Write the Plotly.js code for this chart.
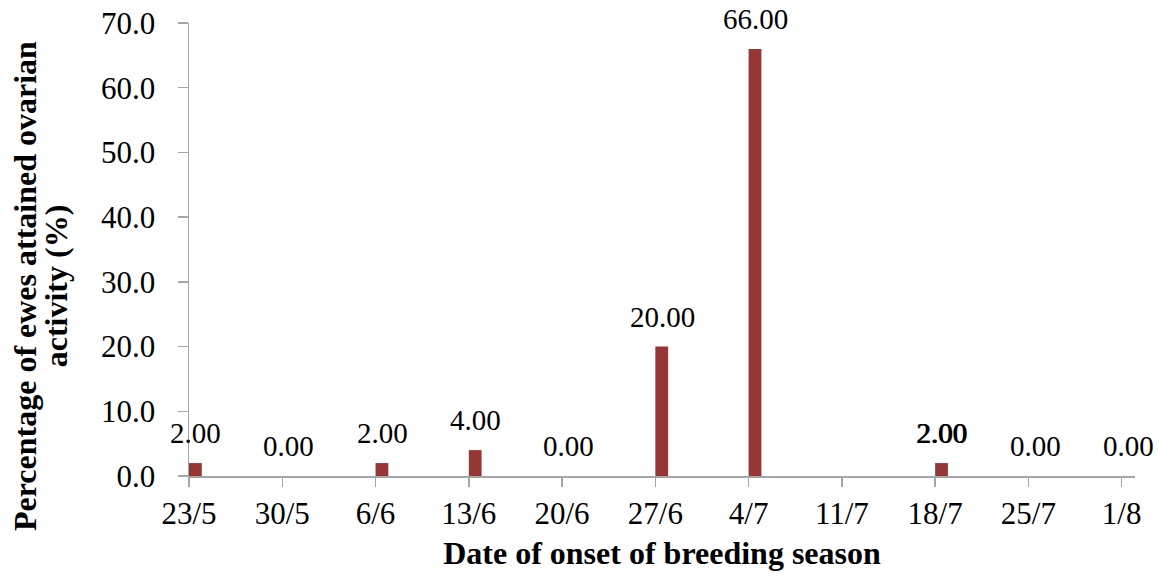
<!DOCTYPE html>
<html>
<head>
<meta charset="utf-8">
<script src="https://cdn.plot.ly/plotly-3.0.1.min.js"></script>
<style>html,body{margin:0;padding:0;background:#fff;}#chart{width:1159px;height:577px;}</style>
</head>
<body>
<div id="chart"></div>
<script>
// Data
const dates = ['2013-05-23','2013-05-30','2013-06-06','2013-06-13','2013-06-20','2013-06-27','2013-07-04','2013-07-11','2013-07-18','2013-07-25','2013-08-01'];
const tickLabels = ['23/5','30/5','6/6','13/6','20/6','27/6','4/7','11/7','18/7','25/7','1/8'];
const percentages = [2, 0, 2, 4, 0, 20, 66, null, 2, 0, 0];
const yTitleLines = ['Percentage of ewes attained ovarian', 'activity (%)'];
const xTitle = 'Date of onset of breeding season';

const DAY = 86400000;
const serif = 'Liberation Serif, Times New Roman, serif';
const barColor = '#953735';
const axisColor = '#a6a6a6';

const trace = {
  type: 'bar',
  x: dates,
  y: percentages,
  offset: 0,
  width: dates.map(() => DAY * 0.96),
  marker: {color: barColor},
  hoverinfo: 'x+y'
};

// value labels centred over each bar
const annotations = [];
dates.forEach((d, i) => {
  const v = percentages[i];
  if (v === null) return;
  const base = {
    x: d + ' 12:00', y: v, xref: 'x', yref: 'y',
    text: v.toFixed(2), showarrow: false,
    xanchor: 'center', yanchor: 'bottom', yshift: 12,
    font: {family: serif, size: 29, color: '#000'}
  };
  annotations.push(base);
  if (i === 8) annotations.push(Object.assign({}, base, {xshift: 0.35})); // label appears doubled in the original
});
// y-axis title, two lines
const yTitleX = [-0.1735, -0.1405];
yTitleLines.forEach((t, i) => {
  annotations.push({
    xref: 'paper', yref: 'paper', x: yTitleX[i], y: 0.419,
    xanchor: 'center', yanchor: 'middle', textangle: -90, showarrow: false,
    text: t,
    font: {family: serif, size: 32, color: '#000', weight: 'bold'}
  });
});

const layout = {
  width: 1159, height: 577,
  margin: {l: 189, r: 24, t: 23, b: 101},
  paper_bgcolor: '#fff', plot_bgcolor: '#fff',
  showlegend: false,
  font: {family: serif, color: '#000'},
  xaxis: {
    type: 'date',
    range: ['2013-05-23', '2013-08-02'],
    tickmode: 'array', tickvals: dates, ticktext: tickLabels,
    showgrid: false, zeroline: false,
    showline: true, linecolor: axisColor, linewidth: 1.5,
    ticks: 'outside', ticklen: 9, tickcolor: axisColor, tickwidth: 1.5,
    tickfont: {family: serif, size: 31, color: '#000'},
    title: {text: xTitle, font: {family: serif, size: 32, color: '#000', weight: 'bold'}, standoff: 12}
  },
  yaxis: {
    range: [0, 70], dtick: 10, tick0: 0, tickformat: '.1f',
    showgrid: false, zeroline: false,
    showline: true, linecolor: axisColor, linewidth: 1.5,
    ticks: 'outside', ticklen: 10, tickcolor: axisColor, tickwidth: 1.5,
    ticklabelstandoff: 16,
    tickfont: {family: serif, size: 31, color: '#000'}
  },
  annotations: annotations
};

Plotly.newPlot('chart', [trace], layout, {displayModeBar: false, staticPlot: true});
</script>
</body>
</html>
